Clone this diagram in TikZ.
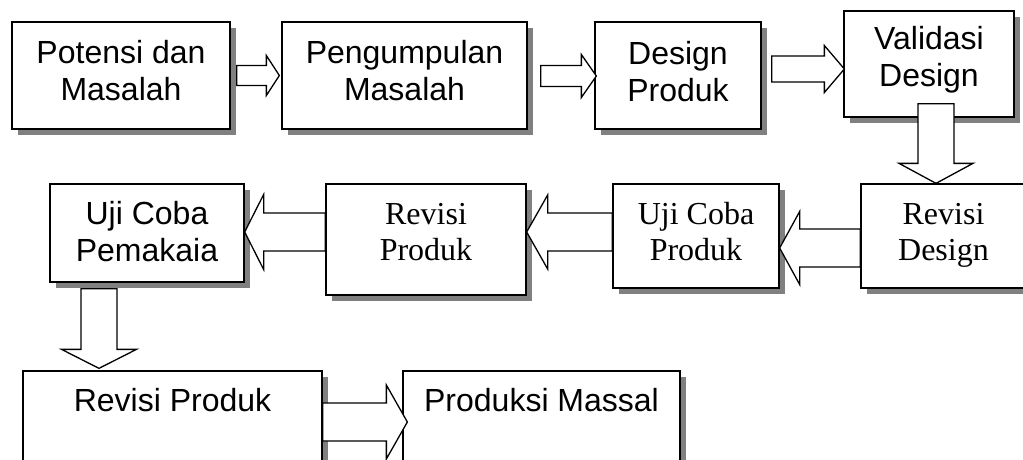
\documentclass[tikz,border=0pt]{standalone}
\usepackage{fontspec}
\setmainfont{Liberation Sans}
\newfontfamily\serifrm{Liberation Serif}
\usetikzlibrary{calc,shadows}
\tikzset{
  box/.style={draw=black, line width=1.3pt, fill=white, rectangle, inner sep=0pt,
    general shadow={fill=black!50, shadow xshift=6pt, shadow yshift=-6pt}},
  mbox/.style={box, align=center, text depth=10pt},
  sans/.style={font=\fontsize{32}{37}\selectfont},
  serif/.style={font=\serifrm\fontsize{32}{36}\selectfont},
  blk/.style={draw=black, line width=1.3pt, fill=white, line join=miter},
}
\newcommand\arrR[5]{\draw[blk] let \p1=(#1), \p2=(#2) in
  (\x1,\y2+#3pt) -- (\x2-#5pt,\y2+#3pt) -- (\x2-#5pt,\y2+#4pt) -- (\x2,\y2)
  -- (\x2-#5pt,\y2-#4pt) -- (\x2-#5pt,\y2-#3pt) -- (\x1,\y2-#3pt) -- cycle;}
\newcommand\arrL[5]{\draw[blk] let \p1=(#1), \p2=(#2) in
  (\x1,\y2+#3pt) -- (\x2+#5pt,\y2+#3pt) -- (\x2+#5pt,\y2+#4pt) -- (\x2,\y2)
  -- (\x2+#5pt,\y2-#4pt) -- (\x2+#5pt,\y2-#3pt) -- (\x1,\y2-#3pt) -- cycle;}
\newcommand\arrD[5]{\draw[blk] let \p1=(#1), \p2=(#2) in
  (\x2-#3pt,\y1) -- (\x2-#3pt,\y2+#5pt) -- (\x2-#4pt,\y2+#5pt) -- (\x2,\y2)
  -- (\x2+#4pt,\y2+#5pt) -- (\x2+#3pt,\y2+#5pt) -- (\x2+#3pt,\y1) -- cycle;}
\begin{document}
\begin{tikzpicture}[x=1pt,y=-1pt]
\useasboundingbox[fill=white] (0,0) rectangle (1023,459);
% row 1
\node[mbox, sans, minimum width=218pt, minimum height=107pt] (b1) at (121,75.5) {Potensi dan\\Masalah};
\node[mbox, sans, minimum width=245pt, minimum height=107pt] (b2) at (404.5,75.5) {Pengumpulan\\Masalah};
\node[mbox, sans, minimum width=166pt, minimum height=107pt, text depth=9pt] (b3) at (678,75.5) {Design\\Produk};
\node[mbox, sans, minimum width=170pt, minimum height=106pt, text depth=16pt] (b4) at (929,64) {Validasi\\Design};
% row 2
\node[mbox, serif, minimum width=165pt, minimum height=104pt, text depth=8pt] (b5) at (943.5,236) {Revisi\\Design};
\node[mbox, serif, minimum width=166pt, minimum height=104pt] (b6) at (696,236) {Uji Coba\\Produk};
\node[mbox, serif, minimum width=200pt, minimum height=111pt, text depth=15pt] (b7) at (426,239.5) {Revisi\\Produk};
\node[mbox, sans, minimum width=194pt, minimum height=98pt, text depth=3pt] (b8) at (147,233) {Uji Coba\\Pemakaia};
% row 3
\node[box, sans, minimum width=299pt, minimum height=119pt, text height=23pt, text depth=62pt] (b9) at (172.5,430.5) {Revisi Produk};
\node[box, sans, minimum width=277pt, minimum height=119pt, text height=23pt, text depth=62pt] (b10) at (541.5,430.5) {Produksi Massal};
% block arrows
\arrR{$(b1.east)+(6,0)$}{$(b2.west)+(-2,0)$}{10}{20}{13}
\arrR{$(b2.east)+(13,0.5)$}{$(b3.west)+(2,0.5)$}{10.5}{21.5}{15}
\arrR{$(b3.east)+(10,-6.5)$}{$(b4.west)+(1,5)$}{13}{23.5}{20}
\arrD{$(b4.south)+(7,-14)$}{$(b5.north)+(-7.5,0)$}{18}{37}{20}
\arrL{$(b5.west)+(0,12)$}{$(b6.east)+(0,12)$}{19}{36.5}{20}
\arrL{b6.west}{$(b7.east)+(0,-7.5)$}{19}{37}{21}
\arrL{b7.west}{$(b8.east)+(0,-1)$}{19}{37.5}{19}
\arrD{$(b8.south)+(-48,6)$}{$(b9.north)+(-73.5,-2)$}{18}{37.5}{19}
\arrR{b9.east}{$(b10.west)+(5,-8.5)$}{19}{37}{21}
\end{tikzpicture}
\end{document}
